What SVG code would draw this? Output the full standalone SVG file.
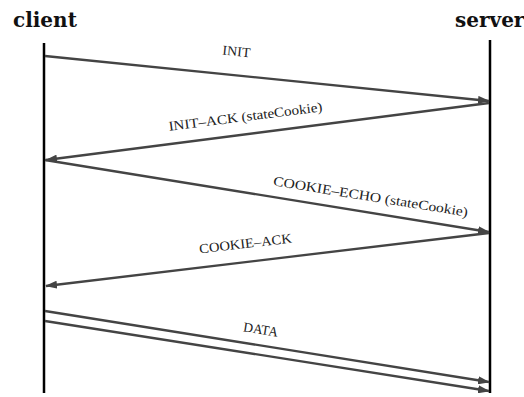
<svg xmlns="http://www.w3.org/2000/svg" width="524" height="397" viewBox="0 0 524 397">
<style>
.title{font-family:"DejaVu Serif","Liberation Serif",serif;font-weight:bold;font-size:20px;fill:#111}
.lbl{font-family:"Liberation Serif","DejaVu Serif",serif;font-size:13.5px;fill:#222;text-anchor:middle}
.life{stroke:#000;stroke-width:2.5;fill:none}
.msg{stroke:#444;stroke-width:2.3;fill:none;marker-end:url(#ah)}
</style>
<defs>
<marker id="ah" markerWidth="12" markerHeight="8" refX="11" refY="4" orient="auto" markerUnits="userSpaceOnUse">
<path d="M0,0 L12,4 L0,8 Z" fill="#444"/>
</marker>
</defs>
<rect width="524" height="397" fill="#fff"/>
<g id="client">
<text class="title" x="13" y="27">client</text>
<line class="life" x1="44" y1="43" x2="44" y2="393"/>
</g>
<g id="server">
<text class="title" x="455" y="27">server</text>
<line class="life" x1="490" y1="40" x2="490" y2="393"/>
</g>
<g id="connectors">
<line class="msg" x1="45" y1="56" x2="489" y2="101"/>
<line class="msg" x1="489" y1="103" x2="46" y2="160"/>
<line class="msg" x1="45" y1="160" x2="489" y2="232"/>
<line class="msg" x1="489" y1="233" x2="46" y2="286"/>
<line class="msg" x1="45" y1="311" x2="489" y2="382"/>
<line class="msg" x1="45" y1="321" x2="489" y2="391"/>
</g>
<g id="labels">
<text class="lbl" transform="translate(236,56) rotate(5.8)" textLength="28" lengthAdjust="spacingAndGlyphs">INIT</text>
<text class="lbl" transform="translate(246,121) rotate(-7.3)" textLength="155" lengthAdjust="spacingAndGlyphs">INIT–ACK (stateCookie)</text>
<text class="lbl" transform="translate(370,201) rotate(9.2)" textLength="197" lengthAdjust="spacingAndGlyphs">COOKIE–ECHO (stateCookie)</text>
<text class="lbl" transform="translate(246,248) rotate(-6.8)" textLength="93" lengthAdjust="spacingAndGlyphs">COOKIE–ACK</text>
<text class="lbl" transform="translate(260,334) rotate(9)" textLength="35" lengthAdjust="spacingAndGlyphs">DATA</text>
</g>
</svg>
